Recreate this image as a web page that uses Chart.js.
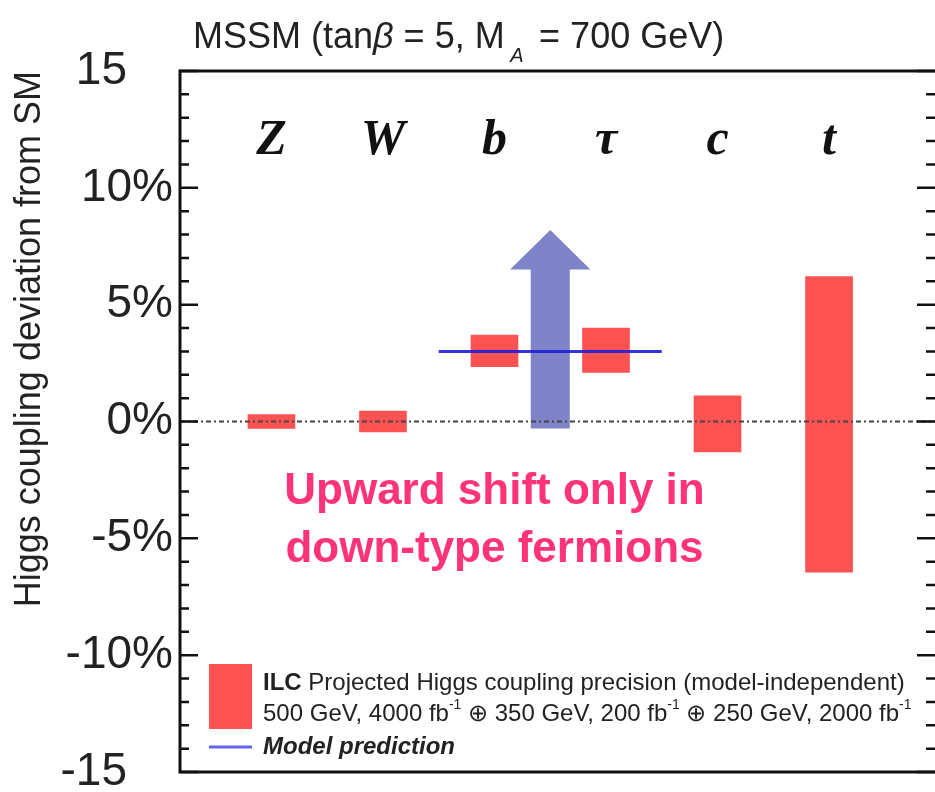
<!DOCTYPE html>
<html>
<head>
<meta charset="utf-8">
<script src="https://cdn.jsdelivr.net/npm/chart.js@4.4.1/dist/chart.umd.min.js"></script>
<style>
  html, body { margin: 0; padding: 0; background: #fff; overflow: hidden; }
  #wrap { width: 935px; height: 792px; }
</style>
</head>
<body>
<div id="wrap"><canvas id="chart"></canvas></div>
<script>
// Data (values in % deviation from SM)
const categories = ["Z", "W", "b", "τ", "c", "t"]
const positions = [1, 2, 3, 4, 5, 6]
const lowerEdges = [-0.3, -0.45, 2.35, 2.1, -1.3, -6.45]
const upperEdges = [0.3, 0.45, 3.7, 4.0, 1.1, 6.2]
const modelX = [2.5, 4.5]
const modelY = [3, 3]
const arrowX = 3.5
const arrowY = [-0.3, 6.5, 8.2] // shaft bottom, head base, tip
const yTickValues = [-15, -10, -5, 0, 5, 10, 15]
const yTickLabels = ["-15\u2003", "-10%", "-5%", "0%", "5%", "10%", "15\u2003"]

const RED = "rgb(255, 82, 82)"
const ARROW = "rgb(127, 132, 200)"
const MODEL = "rgba(30, 30, 215, 0.9)"
const SANS = "Arial, 'Liberation Sans', Helvetica, sans-serif"
const SERIF = "'Liberation Serif', 'Times New Roman', serif"

const barData = positions.map((p, i) => ({ x: p, y: [lowerEdges[i], upperEdges[i]] }))
const modelData = modelX.map((v, i) => ({ x: v, y: modelY[i] }))

// draws a row of text pieces: [text, font, yOffset]
function drawRuns(ctx, runs, x, y, color) {
  ctx.fillStyle = color
  ctx.textAlign = "left"
  ctx.textBaseline = "middle"
  runs.forEach(([text, font, dy]) => {
    ctx.font = font
    ctx.fillText(text, x, y + (dy || 0))
    x += ctx.measureText(text).width
  })
}

const decorations = {
  id: "decorations",
  afterDatasetDraw(chart, args) {
    if (args.index !== 0) return
    // blue arrow between the bars and the model line
    const { x, y } = chart.scales
    const ctx = chart.ctx
    const cx = x.getPixelForValue(arrowX)
    const halfShaft = x.getPixelForValue(arrowX + 0.175) - cx
    const halfHead = x.getPixelForValue(arrowX + 0.36) - cx
    const yBottom = y.getPixelForValue(arrowY[0])
    const yHead = y.getPixelForValue(arrowY[1])
    const yTip = y.getPixelForValue(arrowY[2])
    ctx.save()
    ctx.fillStyle = ARROW
    ctx.beginPath()
    ctx.moveTo(cx - halfShaft, yBottom)
    ctx.lineTo(cx - halfShaft, yHead)
    ctx.lineTo(cx - halfHead, yHead)
    ctx.lineTo(cx, yTip)
    ctx.lineTo(cx + halfHead, yHead)
    ctx.lineTo(cx + halfShaft, yHead)
    ctx.lineTo(cx + halfShaft, yBottom)
    ctx.closePath()
    ctx.fill()
    ctx.restore()
  },
  afterDatasetsDraw(chart) {
    const { x, y } = chart.scales
    const ctx = chart.ctx
    const { left, right, top, bottom } = chart.chartArea
    ctx.save()

    // dash-dotted zero line
    const y0 = y.getPixelForValue(0)
    ctx.strokeStyle = "#444"
    ctx.lineWidth = 2
    ctx.setLineDash([5, 3, 2, 3])
    ctx.beginPath()
    ctx.moveTo(left, y0)
    ctx.lineTo(right, y0)
    ctx.stroke()
    ctx.setLineDash([])

    // frame (right side falls outside the picture)
    ctx.strokeStyle = "#111"
    ctx.lineWidth = 3
    ctx.beginPath()
    ctx.moveTo(right + 2, top)
    ctx.lineTo(left, top)
    ctx.lineTo(left, bottom)
    ctx.lineTo(right + 2, bottom)
    ctx.stroke()

    // inner tick marks on both sides
    ctx.lineWidth = 2.5
    y.ticks.forEach(t => {
      const py = y.getPixelForValue(t.value)
      const len = t.value % 5 === 0 ? 18 : 9
      ctx.beginPath()
      ctx.moveTo(left, py)
      ctx.lineTo(left + len, py)
      ctx.moveTo(right, py)
      ctx.lineTo(right - len, py)
      ctx.stroke()
    })

    // category labels
    ctx.fillStyle = "#111"
    ctx.font = "bold italic 50px " + SERIF
    ctx.textAlign = "center"
    ctx.textBaseline = "middle"
    categories.forEach((c, i) => ctx.fillText(c, x.getPixelForValue(positions[i]), y.getPixelForValue(12)))

    // annotation
    ctx.fillStyle = "#FF3377"
    ctx.font = "bold 44px " + SANS
    ctx.fillText("Upward shift only in", x.getPixelForValue(3), y.getPixelForValue(-3))
    ctx.fillText("down-type fermions", x.getPixelForValue(3), y.getPixelForValue(-5.5))
    ctx.restore()
  },
  afterDraw(chart) {
    const ctx = chart.ctx
    const { left, bottom } = chart.chartArea
    ctx.save()

    // title with tanβ and subscript A
    drawRuns(ctx, [
      ["MSSM (tan", "36px " + SANS],
      ["β", "italic 36px " + SANS],
      [" = 5, M", "36px " + SANS],
      [" A ", "italic 20px " + SANS, 18],
      [" = 700 GeV)", "36px " + SANS]
    ], 193, 38, "#222")

    // legend
    ctx.fillStyle = RED
    ctx.fillRect(left + 29, bottom - 108, 43, 65)
    ctx.strokeStyle = "rgb(100, 100, 240)"
    ctx.lineWidth = 3
    ctx.beginPath()
    ctx.moveTo(left + 29, bottom - 25)
    ctx.lineTo(left + 72, bottom - 25)
    ctx.stroke()

    const f = "24px " + SANS
    const sup = "14px " + SANS
    drawRuns(ctx, [
      ["ILC", "bold 24px " + SANS],
      [" Projected Higgs coupling precision (model-independent)", f]
    ], left + 83, bottom - 89, "#222")
    drawRuns(ctx, [
      ["500 GeV, 4000 fb", f], ["-1", sup, -9],
      [" ⊕ 350 GeV, 200 fb", f], ["-1", sup, -9],
      [" ⊕ 250 GeV, 2000 fb", f], ["-1", sup, -9]
    ], left + 83, bottom - 58, "#222")
    drawRuns(ctx, [["Model prediction", "bold italic 24px " + SANS]], left + 83, bottom - 25, "#222")
    ctx.restore()
  }
}

new Chart(document.getElementById("chart"), {
  type: "bar",
  data: {
    datasets: [
      {
        type: "bar",
        data: barData,
        backgroundColor: RED,
        borderWidth: 0,
        barThickness: 47,
        order: 1
      },
      {
        type: "line",
        data: modelData,
        borderColor: MODEL,
        borderWidth: 3,
        pointRadius: 0,
        order: 0
      }
    ]
  },
  options: {
    responsive: true,
    maintainAspectRatio: false,
    animation: false,
    devicePixelRatio: 1,
    layout: { padding: { top: 71, bottom: 20, left: 0, right: 0 } },
    plugins: { legend: { display: false }, tooltip: { enabled: false } },
    scales: {
      x: { type: "linear", min: 0.18, max: 6.95, offset: false, display: false },
      y: {
        type: "linear",
        min: -15,
        max: 15,
        afterFit: scale => {
          scale.width = 180
          scale.paddingTop = 0
          scale.paddingBottom = 0
        },
        grid: { display: false, drawTicks: false },
        border: { display: false },
        ticks: {
          stepSize: 1,
          autoSkip: false,
          padding: 7,
          color: "#222",
          font: { family: SANS, size: 46 },
          callback: v => {
            const i = yTickValues.indexOf(v)
            return i >= 0 ? yTickLabels[i] : ""
          }
        },
        title: {
          display: true,
          text: "Higgs coupling deviation from SM",
          align: "end",
          color: "#222",
          font: { family: SANS, size: 36 },
          padding: { top: 8, bottom: 0 }
        }
      }
    }
  },
  plugins: [decorations]
})
</script>
</body>
</html>
